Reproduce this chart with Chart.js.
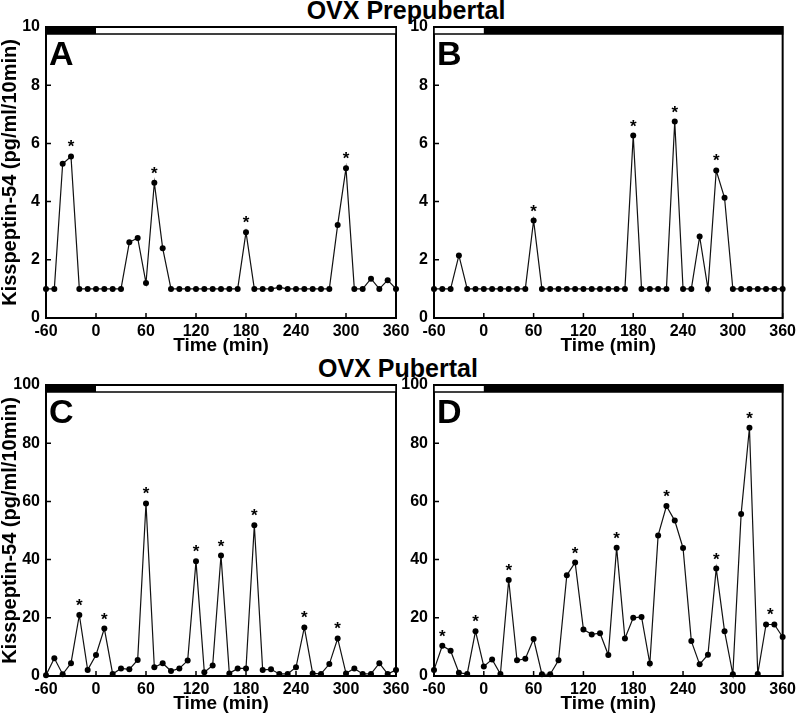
<!DOCTYPE html>
<html>
<head>
<meta charset="utf-8">
<script src="https://cdn.jsdelivr.net/npm/chart.js@4.4.1/dist/chart.umd.min.js"></script>
<style>
  html, body { margin: 0; padding: 0; background: #fff; }
  #wrap { position: relative; width: 800px; height: 716px; overflow: hidden; background: #fff; }
  canvas { position: absolute; }
  .ttl { position: absolute; font: bold 25px "Liberation Sans", Arial, sans-serif; line-height: 25px; color: #000; white-space: nowrap; transform: translateX(-50%); }
</style>
</head>
<body>
<div id="wrap">
  <div class="ttl" style="left:406px; top:-2px;">OVX Prepubertal</div>
  <div class="ttl" style="left:398px; top:356px;">OVX Pubertal</div>
  <canvas id="cA" width="420" height="358" style="left:0px; top:0px;"></canvas>
  <canvas id="cB" width="400" height="358" style="left:400px; top:0px;"></canvas>
  <canvas id="cC" width="420" height="356" style="left:0px; top:360px;"></canvas>
  <canvas id="cD" width="400" height="356" style="left:400px; top:360px;"></canvas>
</div>
<script>
// ---- data ----
const times = [-60,-50,-40,-30,-20,-10,0,10,20,30,40,50,60,70,80,90,100,110,120,130,140,150,160,170,180,190,200,210,220,230,240,250,260,270,280,290,300,310,320,330,340,350,360];

const valuesA = [1,1,5.3,5.55,1,1,1,1,1,1,2.6,2.75,1.2,4.65,2.4,1,1,1,1,1,1,1,1,1,2.95,1,1,1,1.05,1,1,1,1,1,1,3.2,5.15,1,1,1.35,1,1.3,1];
const valuesB = [1,1,1,2.15,1,1,1,1,1,1,1,1,3.35,1,1,1,1,1,1,1,1,1,1,1,6.27,1,1,1,1,6.75,1,1,2.8,1,5.07,4.13,1,1,1,1,1,1,1];
const valuesC = [0.3,6.1,0.6,4.4,21.0,2.1,7.2,16.3,0.7,2.6,2.3,5.5,59.3,3.0,4.4,1.7,2.6,5.3,39.4,1.3,3.6,41.4,0.9,2.6,2.6,51.8,2.1,2.3,0.7,0.7,3.0,16.7,0.9,0.7,4.1,12.9,0.9,2.6,0.7,0.7,4.4,0.7,2.1];
const valuesD = [2.1,10.4,8.7,1.1,0.7,15.4,3.3,5.7,0.7,33.0,5.4,5.9,12.7,0.6,0.6,5.4,34.6,39.0,16.0,14.3,14.7,7.2,44.1,12.9,20.0,20.3,4.3,48.3,58.4,53.4,44.0,12.0,4.0,7.3,36.9,15.4,0.6,55.7,85.3,0.7,17.7,17.7,13.4];

const starsA = [-30,70,180,300];
const starsB = [60,180,230,280];
const starsC = [-20,10,60,120,150,190,250,290];
const starsD = [-50,-10,30,110,160,220,280,320,345];

const darkA = [-60,0];
const darkB = [0,360];
const darkC = [-60,0];
const darkD = [0,360];

const xTicks = [-60,0,60,120,180,240,300,360];
const yTicksPre = [0,2,4,6,8,10];
const yTicksPub = [0,20,40,60,80,100];

const yTitle = 'Kisspeptin-54 (pg/ml/10min)';
const xTitle = 'Time (min)';

// ---- rendering ----
const FONT = '"Liberation Sans", Arial, Helvetica, sans-serif';
Chart.defaults.font.family = FONT;
Chart.defaults.color = '#000';

function valueAt(vals, t) {
  for (let i = 0; i < times.length - 1; i++) {
    if (t >= times[i] && t <= times[i + 1]) {
      const f = (t - times[i]) / (times[i + 1] - times[i]);
      return vals[i] + f * (vals[i + 1] - vals[i]);
    }
  }
  return vals[vals.length - 1];
}

const panelPlugin = {
  id: 'panel',
  beforeDatasetsDraw(chart, args, o) {
    const {ctx, chartArea: a, scales: {x, y}} = chart;
    ctx.save();
    ctx.strokeStyle = '#000';
    ctx.lineWidth = 2;
    ctx.strokeRect(a.left, a.top, a.right - a.left, a.bottom - a.top);
    ctx.lineWidth = 1.5;
    ctx.beginPath();
    x.ticks.forEach(t => {
      const px = x.getPixelForValue(t.value);
      ctx.moveTo(px, a.bottom); ctx.lineTo(px, a.bottom - 5);
    });
    y.ticks.forEach(t => {
      const py = y.getPixelForValue(t.value);
      ctx.moveTo(a.left, py); ctx.lineTo(a.left + 5, py);
    });
    ctx.stroke();
    ctx.restore();
  },
  afterDatasetsDraw(chart, args, o) {
    const {ctx, chartArea: a, scales: {x, y}} = chart;
    ctx.save();
    // light/dark bar
    const barH = 7;
    ctx.fillStyle = '#fff';
    ctx.fillRect(a.left, a.top, a.right - a.left, barH);
    ctx.fillStyle = '#000';
    const x0 = x.getPixelForValue(o.dark[0]), x1 = x.getPixelForValue(o.dark[1]);
    ctx.fillRect(x0, a.top, x1 - x0, barH);
    ctx.strokeStyle = '#000';
    ctx.lineWidth = 1.5;
    ctx.strokeRect(a.left, a.top, a.right - a.left, barH);
    ctx.lineWidth = 2;
    ctx.beginPath(); ctx.moveTo(a.left, a.top); ctx.lineTo(a.right, a.top); ctx.stroke();
    // panel letter
    ctx.fillStyle = '#000';
    ctx.font = 'bold 34px ' + FONT;
    ctx.textAlign = 'left';
    ctx.textBaseline = 'alphabetic';
    ctx.fillText(o.letter, a.left + 3, a.top + 38);
    // asterisks
    ctx.font = 'bold 17px ' + FONT;
    ctx.textAlign = 'center';
    o.stars.forEach(t => {
      const px = x.getPixelForValue(t);
      const py = y.getPixelForValue(valueAt(o.vals, t));
      ctx.fillText('*', px, py - 4);
    });
    ctx.restore();
  }
};

function makeChart(id, vals, stars, dark, letter, yMax, yStep, yTicks, cfg) {
  const data = times.map((t, i) => ({x: t, y: vals[i]}));
  return new Chart(document.getElementById(id), {
    type: 'line',
    data: {
      datasets: [{
        data: data,
        borderColor: '#111',
        borderWidth: 1.2,
        pointRadius: 3,
        pointBackgroundColor: '#000',
        pointBorderWidth: 0,
        tension: 0,
        clip: false
      }]
    },
    options: {
      responsive: false,
      animation: false,
      devicePixelRatio: 1,
      layout: {padding: {top: cfg.top, right: cfg.right, left: 0, bottom: 0}},
      plugins: {
        legend: {display: false},
        tooltip: {enabled: false},
        panel: {vals: vals, stars: stars, dark: dark, letter: letter}
      },
      scales: {
        x: {
          type: 'linear',
          min: -60, max: 360,
          afterBuildTicks: s => { s.ticks = xTicks.map(v => ({value: v})); },
          grid: {display: false, drawTicks: false},
          border: {display: false},
          ticks: {padding: 4, font: {size: 16, weight: 'bold'}, color: '#000', maxRotation: 0, autoSkip: false},
          title: {display: true, text: xTitle, font: {size: 19, weight: 'bold', lineHeight: 1}, padding: {top: 0, bottom: 3}, color: '#000'},
          afterFit: s => { s.height = 40; }
        },
        y: {
          type: 'linear',
          min: 0, max: yMax,
          afterBuildTicks: s => { s.ticks = yTicks.map(v => ({value: v})); },
          grid: {display: false, drawTicks: false},
          border: {display: false},
          ticks: {padding: 6, font: {size: 16, weight: 'bold'}, color: '#000', autoSkip: false},
          title: {display: cfg.ytitle, text: yTitle, font: {size: 20, weight: 'bold', lineHeight: 1}, padding: {top: 0, bottom: 0}, color: '#000'},
          afterFit: s => { s.width = cfg.yw; }
        }
      }
    },
    plugins: [panelPlugin]
  });
}

makeChart('cA', valuesA, starsA, darkA, 'A', 10, 2, yTicksPre, {top: 27, right: 24, yw: 46, ytitle: true});
makeChart('cB', valuesB, starsB, darkB, 'B', 10, 2, yTicksPre, {top: 27, right: 16, yw: 34, ytitle: false});
makeChart('cC', valuesC, starsC, darkC, 'C', 100, 20, yTicksPub, {top: 25, right: 24, yw: 46, ytitle: true});
makeChart('cD', valuesD, starsD, darkD, 'D', 100, 20, yTicksPub, {top: 25, right: 15, yw: 34, ytitle: false});
</script>
</body>
</html>
